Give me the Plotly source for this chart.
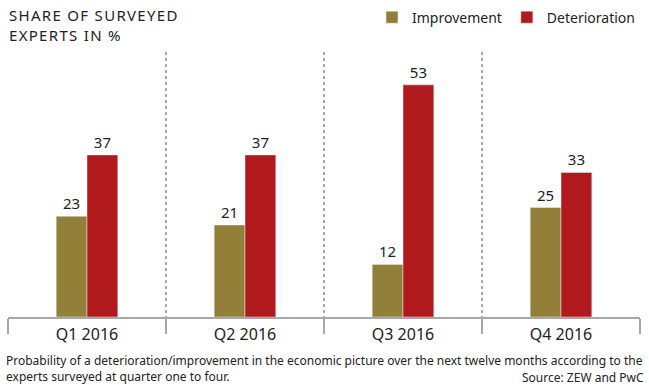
import plotly.graph_objects as go

quarters = ["Q1 2016", "Q2 2016", "Q3 2016", "Q4 2016"]
improvement = [23, 21, 12, 25]
deterioration = [37, 37, 53, 33]

FONT = "Noto Sans"
OLIVE = "#928039"
RED = "#B01A1D"
GRAY = "#A8A8A8"

fig = go.Figure()
fig.add_trace(go.Bar(x=quarters, y=improvement, name="Improvement", marker_color=OLIVE,
                     text=improvement, textposition="outside",
                     textfont=dict(size=15, color="#222", family=FONT), cliponaxis=False))
fig.add_trace(go.Bar(x=quarters, y=deterioration, name="Deterioration", marker_color=RED,
                     text=deterioration, textposition="outside",
                     textfont=dict(size=15, color="#222", family=FONT), cliponaxis=False))

fig.update_layout(
    width=649, height=385,
    margin=dict(l=8, r=9, t=52, b=68, autoexpand=False),
    paper_bgcolor="white", plot_bgcolor="white",
    barmode="group", bargap=0.61, bargroupgap=0,
    font=dict(family=FONT, color="#222"),
    showlegend=True,
    legend=dict(orientation="h", x=1.0, xanchor="right", y=1.13, yanchor="middle",
                font=dict(size=14, color="#222", family=FONT),
                traceorder="normal", bgcolor="rgba(0,0,0,0)"),
    xaxis=dict(type="category", tickson="boundaries", ticks="outside", ticklen=15,
               tickcolor=GRAY, tickwidth=2, showgrid=True, gridcolor=GRAY, gridwidth=2,
               griddash="dot", showline=True, linecolor=GRAY, linewidth=2,
               ticklabelstandoff=2, automargin=False,
               tickfont=dict(size=16, color="#222", family=FONT), fixedrange=True),
    yaxis=dict(range=[0, 60.5], visible=False, showgrid=False, zeroline=False),
)

fig.add_annotation(xref="paper", yref="paper", x=0, y=1.0 + 52 / 265, xanchor="left", yanchor="top",
                   xshift=-1, yshift=-3,
                   text='<span style="letter-spacing:1.3px">SHARE OF SURVEYED<br>EXPERTS IN %</span>',
                   showarrow=False, align="left",
                   font=dict(size=15, color="#222", family=FONT))
fig.add_annotation(xref="paper", yref="paper", x=0, y=0, xanchor="left", yanchor="top",
                   xshift=-4, yshift=-33,
                   text="Probability of a deterioration/improvement in the economic picture over the next twelve months according to the<br>experts surveyed at quarter one to four.",
                   showarrow=False, align="left",
                   font=dict(size=12, color="#222", family=FONT))
fig.add_annotation(xref="paper", yref="paper", x=1, y=0, xanchor="right", yanchor="top",
                   xshift=6, yshift=-50,
                   text="Source: ZEW and PwC", showarrow=False, align="right",
                   font=dict(size=12, color="#222", family=FONT))

fig.write_html("out.html")
